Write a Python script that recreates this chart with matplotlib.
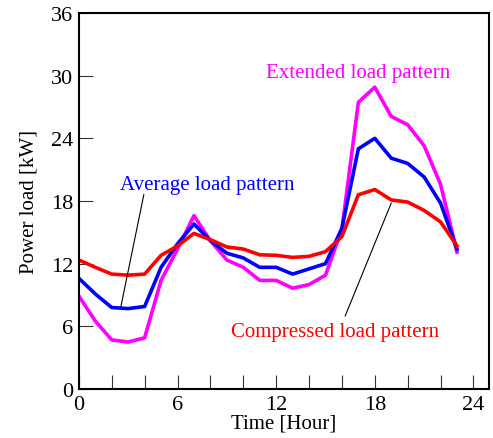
"""
Daily load patterns
===================
"""

import matplotlib.pyplot as plt
import numpy as np

##################################################
# Data
hours = np.arange(24)

extended = [8.9, 6.5, 4.7, 4.5, 4.9, 10.4, 13.4, 16.6, 14.2, 12.35, 11.65, 10.4,
            10.4, 9.65, 10.0, 10.9, 15.3, 27.45, 28.9, 26.1, 25.3, 23.3, 19.6, 13.1]
average = [10.6, 9.1, 7.8, 7.7, 7.9, 11.65, 13.9, 15.8, 14.2, 13.0, 12.55, 11.65,
           11.65, 11.0, 11.5, 12.0, 15.4, 23.0, 24.0, 22.1, 21.6, 20.3, 17.8, 13.4]
compressed = [12.35, 11.65, 11.0, 10.9, 11.0, 12.8, 13.7, 14.9, 14.3, 13.6, 13.4, 12.85,
              12.8, 12.6, 12.7, 13.15, 14.6, 18.6, 19.1, 18.1, 17.9, 17.1, 16.0, 13.7]

xticks = [0, 6, 12, 18, 24]
yticks = [0, 6, 12, 18, 24, 30, 36]

##################################################
# Plot
plt.rcParams["font.family"] = ["Liberation Serif", "DejaVu Serif"]
plt.rcParams["font.size"] = 15

fig = plt.figure(figsize=(4.93, 4.39), dpi=100)
ax = fig.add_axes([0.160, 0.1116, 0.832, 0.8565])

ax.plot(hours, extended, color="#ff00ff", lw=2.6)
ax.plot(hours, average, color="#0000ff", lw=2.6)
ax.plot(hours, compressed, color="#ff0000", lw=2.6)

ax.set_xlim(0, 24.95)
ax.set_ylim(0, 36)
ax.set_xticks(xticks)
ax.set_xticks(np.arange(0, 25, 2), minor=True)
ax.set_yticks(yticks)
ax.tick_params(which="both", direction="in", length=10, width=0.8, color="#333333",
               labelsize=16, pad=4)
for s in ax.spines.values():
    s.set_linewidth(1.5)

ax.set_xlabel("Time [Hour]", labelpad=0)
ax.set_ylabel("Power load [kW]", labelpad=9)

# annotations
ax.text(17.0, 30.3, "Extended load pattern", color="#ff00ff", ha="center", va="center")
ax.text(7.8, 19.6, "Average load pattern", color="#0000ff", ha="center", va="center")
ax.plot([3.95, 2.55], [18.6, 7.85], color="black", lw=0.8)
ax.text(15.6, 5.5, "Compressed load pattern", color="#ff0000", ha="center", va="center")
ax.plot([19.0, 16.2], [17.8, 7.0], color="black", lw=0.8)

fig.savefig("out.png", dpi=100)
